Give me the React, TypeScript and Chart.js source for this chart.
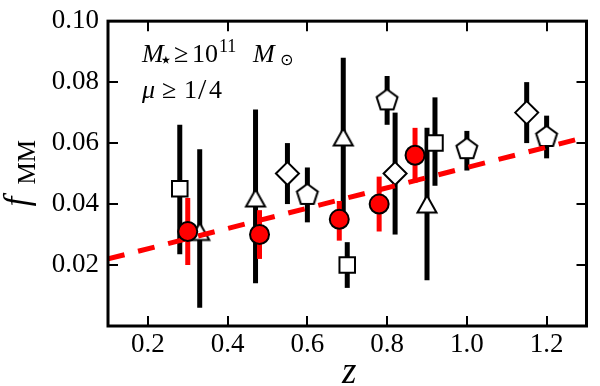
import React, { useEffect, useRef } from 'react';
import { Chart, registerables } from 'chart.js';

Chart.register(...registerables);

// ---- data ----
const xTicks = [0.2, 0.4, 0.6, 0.8, 1.0, 1.2];
const yTicks = [0.02, 0.04, 0.06, 0.08, 0.1];

// red circles (with red error bars)
const circZ = [0.3, 0.48, 0.68, 0.78, 0.87];
const circF = [0.031, 0.03, 0.035, 0.04, 0.056];
const circLo = [0.02, 0.022, 0.028, 0.031, 0.047];
const circHi = [0.042, 0.038, 0.041, 0.049, 0.065];

// open squares
const sqZ = [0.28, 0.7, 0.92];
const sqF = [0.045, 0.02, 0.06];
const sqLo = [0.0235, 0.0125, 0.046];
const sqHi = [0.066, 0.0275, 0.075];

// open triangles
const triZ = [0.33, 0.47, 0.69, 0.9];
const triF = [0.031, 0.042, 0.062, 0.04];
const triLo = [0.006, 0.014, 0.037, 0.015];
const triHi = [0.058, 0.071, 0.088, 0.065];

// open diamonds
const diaZ = [0.55, 0.82, 1.15];
const diaF = [0.05, 0.05, 0.07];
const diaLo = [0.04, 0.03, 0.06];
const diaHi = [0.06, 0.07, 0.08];

// open pentagons
const penZ = [0.6, 0.8, 1.0, 1.2];
const penF = [0.043, 0.074, 0.058, 0.062];
const penLo = [0.034, 0.066, 0.051, 0.055];
const penHi = [0.052, 0.082, 0.064, 0.069];

// dashed fit line
const fitZ = [0.1, 1.3];
const fitF = [0.022, 0.062];

const SERIF = '"Liberation Serif", "DejaVu Serif", serif';

function pts(zs: number[], fs: number[]) {
  return zs.map((z, i) => ({ x: z, y: fs[i] }));
}

function makeTriangle(): HTMLCanvasElement {
  const c = document.createElement('canvas');
  c.width = 24;
  c.height = 22;
  const g = c.getContext('2d')!;
  g.beginPath();
  g.moveTo(12, 2.5);
  g.lineTo(21.5, 19.5);
  g.lineTo(2.5, 19.5);
  g.closePath();
  g.fillStyle = '#ffffff';
  g.fill();
  g.lineWidth = 2;
  g.strokeStyle = '#000000';
  g.stroke();
  return c;
}

function makePentagon(): HTMLCanvasElement {
  const c = document.createElement('canvas');
  c.width = 26;
  c.height = 26;
  const g = c.getContext('2d')!;
  const R = 11;
  g.beginPath();
  for (let k = 0; k < 5; k++) {
    const a = -Math.PI / 2 + (k * 2 * Math.PI) / 5;
    const px = 13 + R * Math.cos(a);
    const py = 13 + R * Math.sin(a);
    if (k === 0) g.moveTo(px, py);
    else g.lineTo(px, py);
  }
  g.closePath();
  g.fillStyle = '#ffffff';
  g.fill();
  g.lineWidth = 2;
  g.strokeStyle = '#000000';
  g.stroke();
  return c;
}

function drawBars(chart: any, zs: number[], lo: number[], hi: number[], color: string) {
  const ctx = chart.ctx;
  const xs = chart.scales.x;
  const ys = chart.scales.y;
  ctx.save();
  ctx.strokeStyle = color;
  ctx.lineWidth = 5;
  ctx.lineCap = 'butt';
  zs.forEach((z, i) => {
    const px = xs.getPixelForValue(z);
    ctx.beginPath();
    ctx.moveTo(px, ys.getPixelForValue(lo[i]));
    ctx.lineTo(px, ys.getPixelForValue(hi[i]));
    ctx.stroke();
  });
  ctx.restore();
}

const figPlugin = {
  id: 'figPlugin',
  beforeDatasetsDraw(chart: any) {
    drawBars(chart, sqZ, sqLo, sqHi, '#000000');
    drawBars(chart, triZ, triLo, triHi, '#000000');
    drawBars(chart, diaZ, diaLo, diaHi, '#000000');
    drawBars(chart, penZ, penLo, penHi, '#000000');
  },
  beforeDatasetDraw(chart: any, args: any) {
    if (chart.data.datasets[args.index].label === 'circ') {
      drawBars(chart, circZ, circLo, circHi, '#ff0000');
    }
  },
  afterDraw(chart: any) {
    const ctx = chart.ctx;
    const a = chart.chartArea;
    const xs = chart.scales.x;
    const ys = chart.scales.y;
    ctx.save();
    // ticks (inside, all four sides)
    ctx.strokeStyle = '#000';
    ctx.lineWidth = 2;
    const TL = 10;
    xTicks.forEach((v) => {
      const px = Math.round(xs.getPixelForValue(v));
      ctx.beginPath();
      ctx.moveTo(px, a.bottom);
      ctx.lineTo(px, a.bottom - TL);
      ctx.moveTo(px, a.top);
      ctx.lineTo(px, a.top + TL);
      ctx.stroke();
    });
    yTicks.forEach((v) => {
      const py = Math.round(ys.getPixelForValue(v));
      ctx.beginPath();
      ctx.moveTo(a.left, py);
      ctx.lineTo(a.left + TL, py);
      ctx.moveTo(a.right, py);
      ctx.lineTo(a.right - TL, py);
      ctx.stroke();
    });
    // spines
    ctx.lineWidth = 3;
    ctx.strokeRect(a.left, a.top, a.right - a.left, a.bottom - a.top);

    // annotation text
    ctx.fillStyle = '#000';
    ctx.textAlign = 'left';
    ctx.textBaseline = 'alphabetic';
    const put = (t: string, font: string, x: number, y: number) => {
      ctx.font = font;
      ctx.fillText(t, x, y);
    };
    const b1 = 62;
    put('M', `italic 26px ${SERIF}`, 142, b1);
    put('\u22C6', `22px "DejaVu Sans", sans-serif`, 159, b1 + 5);
    put('\u2265', `26px ${SERIF}`, 174, b1);
    put('10', `26px ${SERIF}`, 192, b1);
    put('11', `18px ${SERIF}`, 219, b1 - 10);
    put('M', `italic 26px ${SERIF}`, 253, b1);
    put('\u2299', `16px "DejaVu Sans", sans-serif`, 280, b1 + 3);
    const b2 = 98;
    put('\u03BC', `italic 26px ${SERIF}`, 142, b2);
    put('\u2265', `26px ${SERIF}`, 162, b2);
    put('1', `26px ${SERIF}`, 184, b2);
    put('/', `30px ${SERIF}`, 198, b2 + 1);
    put('4', `26px ${SERIF}`, 209, b2);

    // x axis label
    ctx.textAlign = 'center';
    put('z', `italic 37px ${SERIF}`, (a.left + a.right) / 2 + 2, 383);

    // y axis label (rotated)
    ctx.save();
    ctx.translate(28, (a.top + a.bottom) / 2);
    ctx.rotate(-Math.PI / 2);
    ctx.textAlign = 'left';
    put('f', `italic 35px ${SERIF}`, -33, 0);
    put('MM', `25px ${SERIF}`, -11, 7);
    ctx.restore();

    ctx.restore();
  },
};

export default function App() {
  const ref = useRef<HTMLCanvasElement>(null);
  useEffect(() => {
    const triImg = makeTriangle();
    const penImg = makePentagon();
    const chart = new Chart(ref.current as HTMLCanvasElement, {
      type: 'scatter',
      data: {
        datasets: [
          {
            label: 'circ',
            data: pts(circZ, circF),
            pointStyle: 'circle',
            pointRadius: 9.5,
            pointBackgroundColor: '#ff0000',
            pointBorderColor: '#000000',
            pointBorderWidth: 2,
            order: 0,
          },
          {
            label: 'fit',
            data: pts(fitZ, fitF),
            showLine: true,
            borderColor: '#ff0000',
            borderWidth: 5,
            borderDash: [17, 14],
            borderCapStyle: 'butt',
            pointRadius: 0,
            order: 1,
          },
          {
            label: 'pen',
            data: pts(penZ, penF),
            pointStyle: penImg,
            pointRadius: 11,
            order: 2,
          },
          {
            label: 'dia',
            data: pts(diaZ, diaF),
            pointStyle: 'rectRot',
            pointRadius: 11.5,
            pointBackgroundColor: '#ffffff',
            pointBorderColor: '#000000',
            pointBorderWidth: 2,
            order: 3,
          },
          {
            label: 'tri',
            data: pts(triZ, triF),
            pointStyle: triImg,
            pointRadius: 11,
            order: 4,
          },
          {
            label: 'sq',
            data: pts(sqZ, sqF),
            pointStyle: 'rect',
            pointRadius: 11,
            pointBackgroundColor: '#ffffff',
            pointBorderColor: '#000000',
            pointBorderWidth: 2,
            order: 5,
          },
        ] as any,
      },
      options: {
        responsive: false,
        animation: false,
        events: [],
        layout: { padding: { top: 13, right: 3, left: 0, bottom: 0 } },
        plugins: { legend: { display: false }, tooltip: { enabled: false } },
        scales: {
          x: {
            type: 'linear',
            min: 0.1,
            max: 1.3,
            grid: { display: false, drawTicks: false },
            border: { display: false },
            afterFit: (s: any) => {
              s.height = 60;
            },
            afterBuildTicks: (s: any) => {
              s.ticks = xTicks.map((v) => ({ value: v }));
            },
            ticks: {
              color: '#000',
              font: { family: SERIF, size: 27, lineHeight: 0.9 },
              padding: 7,
              maxRotation: 0,
              autoSkip: false,
              callback: (v: any) => Number(v).toFixed(1),
            },
          },
          y: {
            type: 'linear',
            min: 0,
            max: 0.1,
            grid: { display: false, drawTicks: false },
            border: { display: false },
            afterFit: (s: any) => {
              s.width = 108;
            },
            afterBuildTicks: (s: any) => {
              s.ticks = yTicks.map((v) => ({ value: v }));
            },
            ticks: {
              color: '#000',
              font: { family: SERIF, size: 27, lineHeight: 0.9 },
              padding: 9,
              autoSkip: false,
              callback: (v: any) => Number(v).toFixed(2),
            },
          },
        },
      } as any,
      plugins: [figPlugin],
    });
    return () => chart.destroy();
  }, []);
  return (
    <div style={{ position: 'fixed', left: 0, top: 0, width: 600, height: 386, background: '#fff' }}>
      <canvas ref={ref} width={600} height={386} style={{ display: 'block' }} />
    </div>
  );
}
